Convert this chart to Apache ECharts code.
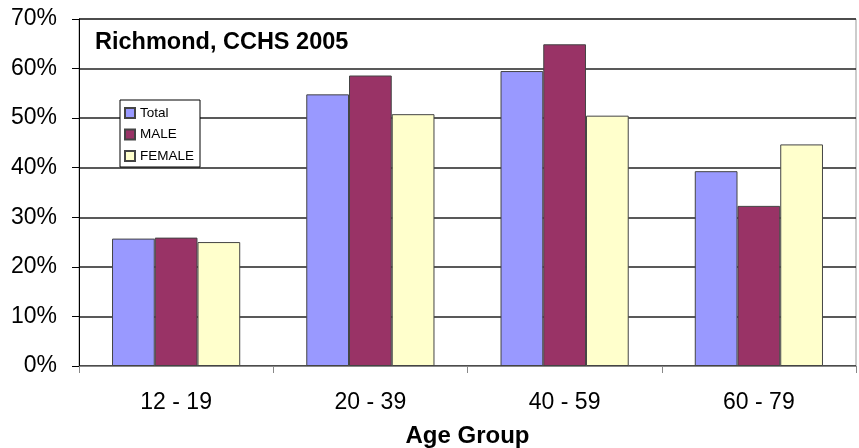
<!DOCTYPE html>
<html>
<head>
<meta charset="utf-8">
<script src="https://cdn.jsdelivr.net/npm/echarts@6/dist/echarts.min.js"></script>
<style>
  html, body { margin: 0; padding: 0; background: #fff; }
  #main { width: 859px; height: 448px; }
</style>
</head>
<body>
<div id="main"></div>
<script>
var ageGroups = ['12 - 19', '20 - 39', '40 - 59', '60 - 79'];
var totalVals = [25.7, 54.8, 59.5, 39.3];
var maleVals = [25.9, 58.6, 64.9, 32.3];
var femaleVals = [25.0, 50.8, 50.5, 44.7];
var yTicks = [0, 10, 20, 30, 40, 50, 60, 70];

var chart = echarts.init(document.getElementById('main'));
var font = 'Liberation Sans, Arial, sans-serif';

function barSeries(name, data, color) {
    return {
        name: name,
        type: 'bar',
        data: data,
        barGap: '0%',
        barCategoryGap: '34%',
        itemStyle: { color: color, borderColor: '#444', borderWidth: 1 }
    };
}

var option = {
    animation: false,
    title: {
        text: 'Richmond, CCHS 2005',
        left: 90,
        top: 26,
        textStyle: { fontFamily: font, fontSize: 23.5, fontWeight: 'bold', color: '#000' }
    },
    legend: {
        orient: 'vertical',
        left: 120,
        top: 100,
        itemWidth: 10,
        itemHeight: 10,
        itemGap: 7.5,
        padding: [6, 6, 4, 4],
        backgroundColor: '#fff',
        borderColor: '#000',
        borderWidth: 1,
        borderRadius: 0,
        icon: 'rect',
        textStyle: { fontFamily: font, fontSize: 13.5, color: '#000' },
        data: ['Total', 'MALE', 'FEMALE']
    },
    grid: {
        left: 79, right: 3, top: 19, bottom: 82,
        outerBoundsMode: 'none',
        show: true, borderColor: '#999', borderWidth: 1
    },
    xAxis: {
        type: 'category',
        data: ageGroups,
        name: 'Age Group',
        nameLocation: 'middle',
        nameGap: 58,
        nameTextStyle: { fontFamily: font, fontSize: 24, fontWeight: 'bold', color: '#000' },
        axisLine: { lineStyle: { color: '#888', width: 1 } },
        axisTick: { show: true, length: 7, lineStyle: { color: '#888' } },
        axisLabel: { fontFamily: font, fontSize: 23, color: '#000', margin: 25 }
    },
    yAxis: {
        type: 'value',
        min: 0,
        max: 70,
        interval: 10,
        axisLine: { show: true, lineStyle: { color: '#000', width: 1 } },
        axisTick: { show: true, length: 7, lineStyle: { color: '#000' } },
        axisLabel: {
            fontFamily: font, fontSize: 23, color: '#000', margin: 22,
            formatter: function (v) { return yTicks.indexOf(v) >= 0 ? v + '%' : ''; }
        },
        splitLine: { show: true, lineStyle: { color: '#222', width: 1.5 } }
    },
    series: [
        barSeries('Total', totalVals, '#9999FF'),
        barSeries('MALE', maleVals, '#993366'),
        barSeries('FEMALE', femaleVals, '#FFFFCC')
    ]
};
chart.setOption(option);
</script>
</body>
</html>
